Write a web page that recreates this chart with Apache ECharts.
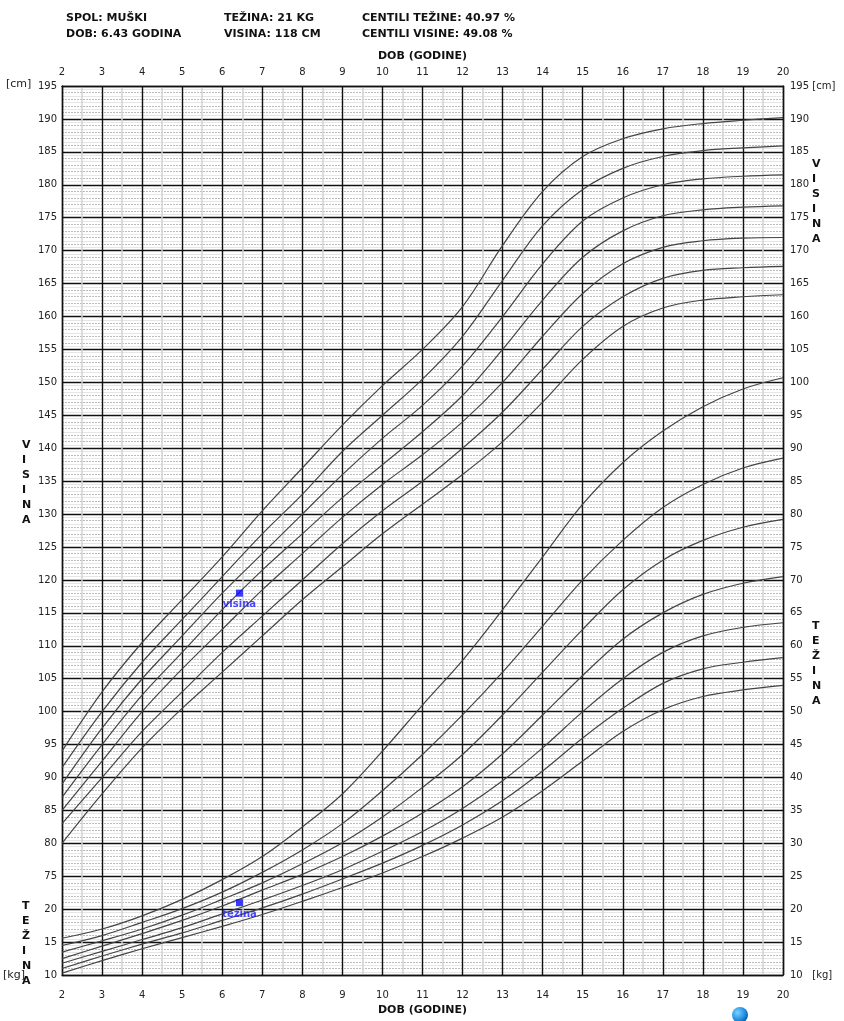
<!DOCTYPE html>
<html>
<head>
<meta charset="utf-8">
<script src="https://cdn.jsdelivr.net/npm/echarts@6/dist/echarts.min.js"></script>
<style>html,body{margin:0;padding:0;background:#fff;}#c{width:844px;height:1021px;}</style>
</head>
<body>
<div id="c"></div>
<script>
// ages (years)
const ages = [2,3,4,5,6,7,8,9,10,11,12,13,14,15,16,17,18,19,20];
// height percentile curves (cm): P3, P10, P25, P50, P75, P90, P97
const hP3  = [80,87.5,94.5,100.5,106,111.5,117,122,127,131.5,136,141,147,153.5,158.5,161.3,162.5,163,163.3];
const hP10 = [83,90,97,103,109,114.5,120,125.5,130.5,135,140,145.5,152,158.5,163,165.8,167,167.4,167.6];
const hP25 = [85,92.5,100,106.5,112.5,118.5,124,129.5,134.5,139,144,150,157,163.5,168,170.5,171.5,171.9,172];
const hP50 = [87,95,102.5,109,115.5,121.5,127,132.5,137.5,142.5,148,155,162.5,169,173,175.3,176.2,176.6,176.8];
const hP75 = [89,97.5,105,111.5,118,124,130,136,141.5,146.5,152.5,160,168,174.5,178,180,180.9,181.3,181.5];
const hP90 = [91.5,100,107.5,114,120.5,127,133,139.5,145,150.5,157,165.5,173.8,179.3,182.5,184.3,185.2,185.6,185.9];
const hP97 = [94,103,110.5,117,123.5,130.5,137,143.5,149.5,155,161.5,170.8,179,184.3,187,188.5,189.3,189.8,190.2];
// weight percentile curves (kg)
const wP3  = [10.3,12.2,14,15.7,17.4,19.2,21.2,23.3,25.5,28,30.8,34,38,42.5,47,50.3,52.3,53.3,54];
const wP10 = [11,12.9,14.7,16.4,18.3,20.2,22.3,24.6,27,29.7,32.8,36.5,41,46,50.5,54.3,56.5,57.5,58.2];
const wP25 = [11.8,13.6,15.4,17.2,19.3,21.4,23.6,26,28.8,31.8,35.3,39.5,44.5,50,55,59,61.5,62.8,63.5];
const wP50 = [12.5,14.4,16.3,18.3,20.5,22.9,25.3,28,31.1,34.6,38.6,43.6,49.5,55.5,61,65,67.8,69.5,70.5];
const wP75 = [13.5,15.2,17,19.1,21.5,24,26.9,30.1,34,38.5,43.5,49.5,56,62.5,68.5,73,76,78,79.2];
const wP90 = [14.5,16,18,20.1,22.6,25.6,29,33,38,43.5,49.5,56,63,70,76,81,84.5,87,88.5];
const wP97 = [15.6,17,19,21.5,24.5,28,32.5,37.5,44,51,57.8,65.5,73.5,81.5,87.8,92.6,96.3,99,100.7];
// patient
const patientAge = 6.43;
const patientHeight = 118;
const patientWeight = 21;
const headerLines = [
  ['SPOL: MUŠKI', 'TEŽINA: 21 KG', 'CENTILI TEŽINE: 40.97 %'],
  ['DOB: 6.43 GODINA', 'VISINA: 118 CM', 'CENTILI VISINE: 49.08 %']
];

const chart = echarts.init(document.getElementById('c'), null, {renderer:'canvas'});
const FONT = 'DejaVu Sans';
const pair = arr => arr.map((v,i)=>[ages[i], v]);
const lineStyle = {color:'#444', width:1.2};
const series = [];
[hP3,hP10,hP25,hP50,hP75,hP90,hP97].forEach(a=>series.push({type:'line', xAxisIndex:0, yAxisIndex:0, data:pair(a), smooth:0.35, showSymbol:false, symbol:'none', lineStyle, silent:true, z:3}));
[wP3,wP10,wP25,wP50,wP75,wP90,wP97].forEach(a=>series.push({type:'line', xAxisIndex:0, yAxisIndex:1, data:pair(a), smooth:0.35, showSymbol:false, symbol:'none', lineStyle, silent:true, z:3}));
const ptLabel = (t)=>({show:true, position:'bottom', distance:3, formatter:t, color:'#1a1aff', fontWeight:'bold', fontSize:10, fontFamily:FONT});
series.push({type:'scatter', xAxisIndex:0, yAxisIndex:0, data:[[patientAge, patientHeight]], symbol:'rect', symbolSize:7, itemStyle:{color:'#0a0aff'}, label:ptLabel('visina'), z:5});
series.push({type:'scatter', xAxisIndex:0, yAxisIndex:1, data:[[patientAge, patientWeight]], symbol:'rect', symbolSize:7, itemStyle:{color:'#0a0aff'}, label:ptLabel('težina'), z:5});

const graphics = [];
const hdrX = [66, 224, 362];
headerLines.forEach((row,r)=>row.forEach((t,c)=>graphics.push({type:'text', left:hdrX[c], top:13+16*r, style:{text:t, font:'bold 11px '+FONT, fill:'#111'}})));
function vword(txt, x, y){
  graphics.push({type:'text', left:x, top:y, style:{text:txt.split('').join('\n'), font:'bold 11px '+FONT, fill:'#111', align:'center', lineHeight:15, width:12}});
}
vword('VISINA', 22, 438);
vword('VISINA', 812, 157);
vword('TEŽINA', 22, 899);
vword('TEŽINA', 812, 619);
graphics.push({type:'text', left:6, top:79, style:{text:'[cm]', font:'11px '+FONT, fill:'#222'}});
graphics.push({type:'text', left:3, top:970, style:{text:'[kg]', font:'11px '+FONT, fill:'#222'}});
graphics.push({type:'circle', shape:{cx:740, cy:1015, r:8}, style:{fill:new echarts.graphic.RadialGradient(0.35,0.35,0.8,[{offset:0,color:'#7fd0ff'},{offset:0.6,color:'#1a8de0'},{offset:1,color:'#0b3f8a'}])}});

const axisLabelStyle = {color:'#222', fontSize:10, fontFamily:FONT};
const major = {show:true, lineStyle:{color:'#111', width:1.4}};
const option = {
  animation:false,
  backgroundColor:'#fff',
  grid:{left:62, right:61, top:86, bottom:40, containLabel:false},
  xAxis:[
    {type:'value', position:'bottom', min:2, max:20, interval:1, z:2,
     name:'DOB (GODINE)', nameLocation:'middle', nameGap:29, nameTextStyle:{fontWeight:'bold', fontSize:11, fontFamily:FONT, color:'#111'},
     axisLine:{show:true, lineStyle:{color:'#111', width:1.4}}, axisTick:{show:false},
     axisLabel:{...axisLabelStyle, margin:15},
     splitLine:major,
     minorTick:{show:false, splitNumber:2},
     minorSplitLine:{show:true, lineStyle:{color:'#d2d2d2', width:1.5}}},
    {type:'value', position:'top', min:2, max:20, interval:1, z:2,
     name:'DOB (GODINE)', nameLocation:'middle', nameGap:23, nameTextStyle:{fontWeight:'bold', fontSize:11, fontFamily:FONT, color:'#111'},
     axisLine:{show:true, lineStyle:{color:'#111', width:1.4}}, axisTick:{show:false},
     axisLabel:{...axisLabelStyle, margin:9},
     splitLine:{show:false}}
  ],
  yAxis:[
    {type:'value', position:'left', min:60, max:195, interval:5, z:2,
     axisLine:{show:true, lineStyle:{color:'#111', width:1.4}}, axisTick:{show:false},
     axisLabel:{...axisLabelStyle, margin:5, formatter:v=> v>=75 ? String(v) : String(v-50)},
     splitLine:major},
    {type:'value', position:'right', min:10, max:145, interval:5, z:2,
     axisLine:{show:true, lineStyle:{color:'#111', width:1.4}}, axisTick:{show:false},
     axisLabel:{...axisLabelStyle, margin:7, formatter:v=> v===145 ? '195 [cm]' : v===10 ? '10   [kg]' : (v<=105 ? String(v) : String(v+50))},
     splitLine:{show:false}},
    {type:'value', position:'left', min:60, max:195, interval:1, z:1,
     axisLine:{show:false}, axisTick:{show:false}, axisLabel:{show:false},
     splitLine:{show:true, lineStyle:{color:'#bcbcbc', width:1, type:[2,1]}},
     minorTick:{show:false, splitNumber:2},
     minorSplitLine:{show:true, lineStyle:{color:'#e6e6e6', width:1}}}
  ],
  graphic:graphics,
  series
};
chart.setOption(option);
</script>
</body>
</html>
